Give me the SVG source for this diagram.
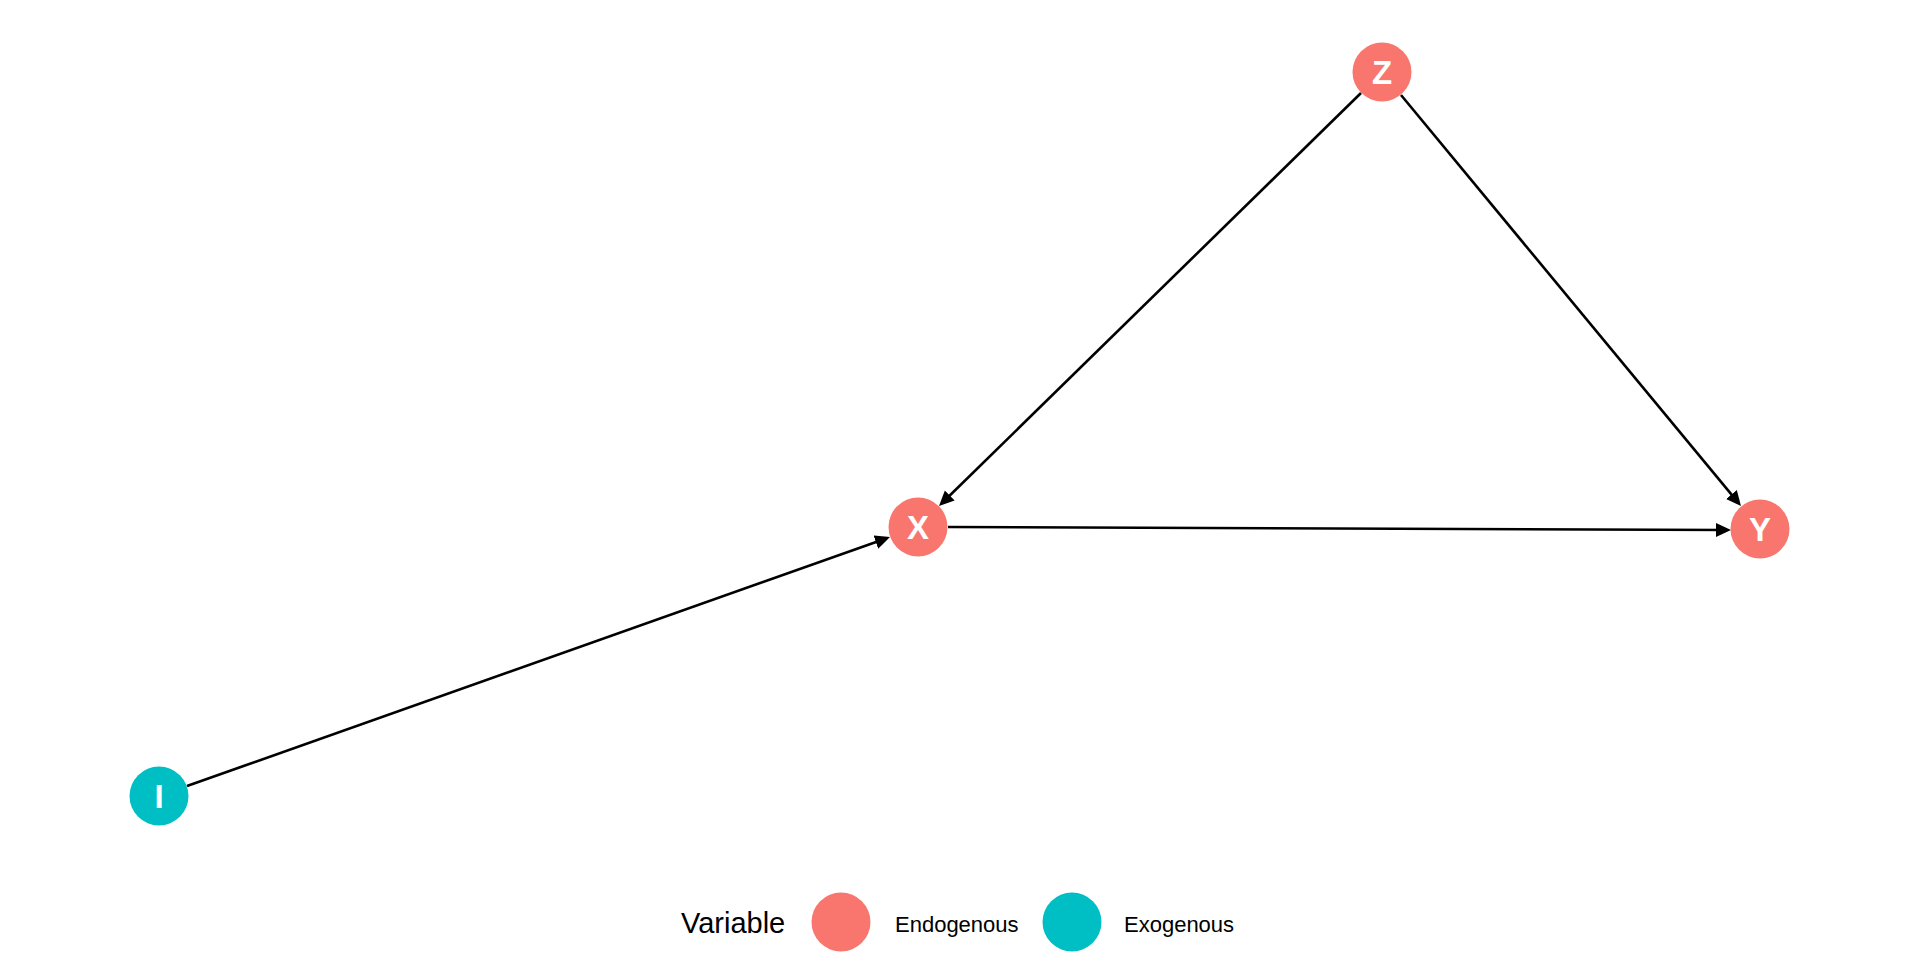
<svg xmlns="http://www.w3.org/2000/svg" width="1920" height="960" viewBox="0 0 1920 960">
<style>
.edge{fill:none;stroke:#000;stroke-width:2.6;marker-end:url(#arr)}
.endo{fill:#F8766D}
.exo{fill:#00BFC4}
.lbl{font-family:"Liberation Sans",Arial,sans-serif;font-weight:bold;font-size:33px;fill:#fff;text-anchor:middle}
.leg{font-family:"Liberation Sans",Arial,sans-serif;fill:#000}
</style>
<defs>
<marker id="arr" markerUnits="userSpaceOnUse" viewBox="0 0 15 15" markerWidth="15" markerHeight="15" refX="10" refY="7.5" orient="auto">
<path d="M0,0.5 L15,7.5 L0,14.5 Z" fill="#000"/>
</marker>
</defs>
<rect width="1920" height="960" fill="#fff"/>
<g id="connectors">
<path class="edge" d="M1361,93 L942.6,502.5"/>
<path class="edge" d="M1401,95 L1737.8,502.2"/>
<path class="edge" d="M948,527 L1726,530"/>
<path class="edge" d="M187,786 L885.3,538.7"/>
</g>
<g id="node-Z"><circle class="endo" cx="1382" cy="72" r="29.5"/><text class="lbl" x="1382" y="84">Z</text></g>
<g id="node-X"><circle class="endo" cx="918" cy="527" r="29.5"/><text class="lbl" x="918" y="539">X</text></g>
<g id="node-Y"><circle class="endo" cx="1760" cy="529" r="29.5"/><text class="lbl" x="1760" y="541">Y</text></g>
<g id="node-I"><circle class="exo" cx="159" cy="796" r="29.5"/><text class="lbl" x="159" y="808">I</text></g>
<g id="legend">
<text class="leg" x="681" y="933" font-size="29">Variable</text>
<circle class="endo" cx="841" cy="922" r="29.5"/>
<text class="leg" x="895" y="932" font-size="22">Endogenous</text>
<circle class="exo" cx="1072" cy="922" r="29.5"/>
<text class="leg" x="1124" y="932" font-size="22">Exogenous</text>
</g>
</svg>
